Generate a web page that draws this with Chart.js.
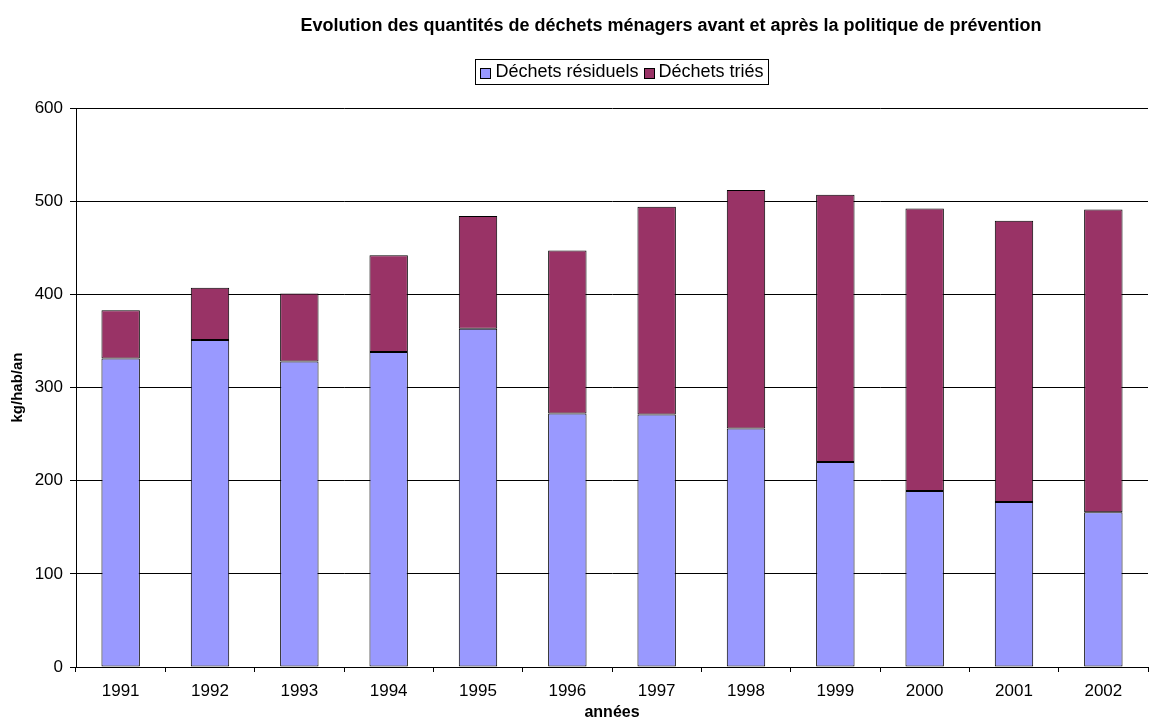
<!DOCTYPE html>
<html>
<head>
<meta charset="utf-8">
<script src="https://cdn.jsdelivr.net/npm/chart.js@4/dist/chart.umd.min.js"></script>
<style>
    html, body { margin: 0; padding: 0; background: #fff; }
    #wrap { width: 1162px; height: 722px; }
</style>
</head>
<body>
<div id="wrap"><canvas id="chart"></canvas></div>
<script>
const years = ['1991', '1992', '1993', '1994', '1995', '1996', '1997', '1998', '1999', '2000', '2001', '2002'];
const residuels = [331, 351, 328, 338, 363, 272, 271, 256, 220, 189, 177, 166];
const tries = [52, 56, 73, 104, 121, 175, 223, 256, 287, 303, 302, 325];
const seriesNames = ['Déchets résiduels', 'Déchets triés'];
const yTicks = [0, 100, 200, 300, 400, 500, 600];

const chartTitle = 'Evolution des quantités de déchets ménagers avant et après la politique de prévention';
const FONT = '"Liberation Sans", Arial, sans-serif';

// title and boxed legend, drawn by hand like the Excel original
const headerPlugin = {
    id: 'header',
    afterDraw(chart) {
        const ctx = chart.ctx;
        ctx.save();
        ctx.fillStyle = '#000';
        ctx.font = 'bold 18px ' + FONT;
        ctx.textAlign = 'center';
        ctx.textBaseline = 'middle';
        ctx.fillText(chartTitle, 671, 26);

        ctx.font = '18px ' + FONT;
        ctx.textAlign = 'left';
        const box = 10, gap = 5, sep = 5;
        const items = chart.data.datasets.map(ds => ({
            label: ds.label, color: ds.backgroundColor, w: box + gap + ctx.measureText(ds.label).width
        }));
        const total = items.reduce((s, it) => s + it.w, 0) + sep * (items.length - 1) + 10;
        let x = 622 - total / 2;
        const top = 59, h = 25;
        ctx.strokeStyle = '#000';
        ctx.lineWidth = 1;
        ctx.strokeRect(Math.round(x) + 0.5, top + 0.5, Math.round(total), h);
        x += 5;
        const cy = top + h / 2 + 1;
        items.forEach(it => {
            ctx.fillStyle = it.color;
            ctx.fillRect(Math.round(x) + 0.5, Math.round(cy - box / 2) + 0.5, box, box);
            ctx.strokeRect(Math.round(x) + 0.5, Math.round(cy - box / 2) + 0.5, box, box);
            ctx.fillStyle = '#000';
            ctx.fillText(it.label, x + box + gap, cy);
            x += it.w + sep;
        });
        ctx.restore();
    }
};

const ctx = document.getElementById('chart').getContext('2d');
new Chart(ctx, {
    type: 'bar',
    data: {
        labels: years,
        datasets: [{
            label: seriesNames[0],
            data: residuels,
            backgroundColor: '#9999FF',
            borderColor: '#000',
            borderWidth: 1,
            borderSkipped: false
        }, {
            label: seriesNames[1],
            data: tries,
            backgroundColor: '#993366',
            borderColor: '#000',
            borderWidth: 1,
            borderSkipped: false
        }]
    },
    options: {
        responsive: true,
        maintainAspectRatio: false,
        animation: false,
        layout: { padding: { top: 108, right: 14, left: 6, bottom: 0 } },
        datasets: { bar: { categoryPercentage: 0.86, barPercentage: 0.5 } },
        plugins: {
            legend: { display: false },
            title: { display: false },
            tooltip: { enabled: false }
        },
        scales: {
            x: {
                stacked: true,
                offset: true,
                afterFit: s => { s.height = 55; },
                grid: { offset: true, drawOnChartArea: false, color: '#000', tickLength: 5 },
                border: { color: '#000' },
                ticks: { color: '#000', font: { family: FONT, size: 17 }, maxRotation: 0, padding: 9 },
                title: { display: true, text: 'années', color: '#000', font: { family: FONT, size: 16, weight: 'bold' }, padding: { top: 0, bottom: 0 } }
            },
            y: {
                stacked: true,
                min: yTicks[0],
                max: yTicks[yTicks.length - 1],
                afterBuildTicks: axis => { axis.ticks = yTicks.map(v => ({ value: v })); },
                afterFit: s => { s.width = 70; },
                grid: { color: '#000', lineWidth: 1, tickLength: 6 },
                border: { color: '#000' },
                ticks: { color: '#000', font: { family: FONT, size: 17 }, padding: 7 },
                title: { display: true, text: 'kg/hab/an', color: '#000', font: { family: FONT, size: 15, weight: 'bold' }, padding: { top: 3, bottom: 0 } }
            }
        }
    },
    plugins: [headerPlugin]
});
</script>
</body>
</html>
